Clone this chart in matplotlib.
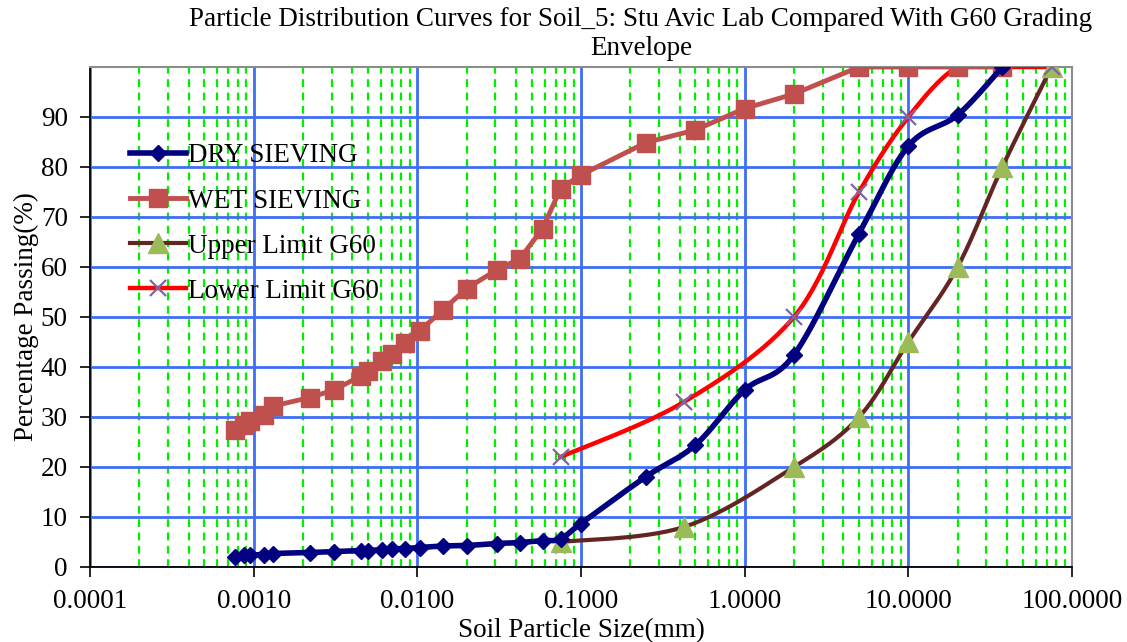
import numpy as np
import matplotlib.pyplot as plt
from matplotlib.ticker import FixedLocator, FuncFormatter

plt.rcParams['font.family'] = ['Liberation Serif', 'DejaVu Serif']

FS = 19.5

# sieve / hydrometer sizes (mm)
sizes = [0.00077, 0.00087, 0.00095, 0.00115, 0.00132, 0.0022, 0.0031, 0.0045,
         0.0050, 0.0061, 0.0070, 0.0084, 0.0104, 0.0143, 0.0200, 0.0305,
         0.0424, 0.0583, 0.075, 0.1, 0.25, 0.5, 1.0, 2.0, 5.0, 10.0, 20.0, 37.5]

dry_passing = [2.1, 2.4, 2.4, 2.5, 2.7, 2.9, 3.1, 3.3, 3.3, 3.5, 3.6, 3.7, 3.9,
               4.2, 4.3, 4.7, 4.9, 5.3, 5.6, 8.7, 18.1, 24.4, 35.4, 42.4, 66.7,
               84.2, 90.4, 100.0]

wet_passing = [27.4, 28.5, 29.3, 30.5, 32.2, 33.9, 35.4, 38.2, 39.3, 41.3, 42.7,
               44.9, 47.3, 51.4, 55.7, 59.4, 61.7, 67.7, 75.7, 78.4, 84.9, 87.4,
               91.7, 94.6, 100.0, 100.0, 100.0, 100.0]

g60_sizes = [0.075, 0.425, 2.0, 5.0, 10.0, 20.0, 37.5, 75.0]
g60_upper = [5, 8, 20, 30, 45, 60, 80, 100]
g60_lower = [22, 33, 50, 75, 90, 100, 100, 100]

y_ticks = [0, 10, 20, 30, 40, 50, 60, 70, 80, 90]


def smooth(x, y, n=30):
    # Catmull-Rom style bezier through the points, done in log10(x) space
    u = np.log10(np.asarray(x, float))
    v = np.asarray(y, float)
    pts = np.column_stack([u, v])
    ext = np.vstack([pts[0], pts, pts[-1]])
    out = []
    t = np.linspace(0, 1, n)[:, None]
    for i in range(len(pts) - 1):
        p0, p1, p2, p3 = ext[i], ext[i + 1], ext[i + 2], ext[i + 3]
        b1 = p1 + (p2 - p0) / 6
        b2 = p2 - (p3 - p1) / 6
        seg = ((1 - t) ** 3) * p1 + 3 * ((1 - t) ** 2) * t * b1 \
            + 3 * (1 - t) * t ** 2 * b2 + t ** 3 * p2
        out.append(seg if i == 0 else seg[1:])
    out = np.vstack(out)
    return 10 ** out[:, 0], out[:, 1]


fig = plt.figure(figsize=(11.27, 6.42), dpi=100)
ax = fig.add_axes([90 / 1127, 1 - 567 / 642, 982 / 1127, 500 / 642])

ax.set_xscale('log')
ax.set_xlim(0.0001, 100)
ax.set_ylim(0, 100)

# grid: blue solid for decades and every 10 %, green dashed for 2..9
ax.grid(which='major', axis='both', color='#3d6ef5', linewidth=2.0, linestyle='-', zorder=0)
ax.grid(which='minor', axis='x', color='#00ee00', linewidth=1.6, linestyle=(0, (3.5, 2.5)), zorder=0)
ax.set_axisbelow(True)

xs, ys = smooth(g60_sizes, g60_upper)
ax.plot(xs, ys, color='#632523', linewidth=3, zorder=3)
ax.plot(g60_sizes, g60_upper, linestyle='none', marker='^', markersize=14,
        color='#9bbb59', zorder=4)

xs, ys = smooth(g60_sizes, g60_lower)
ax.plot(xs, ys, color='#ff0000', linewidth=3.2, zorder=3)
ax.plot(g60_sizes, g60_lower, linestyle='none', marker='x', markersize=12,
        markeredgewidth=1.6, color='#8064a2', zorder=4)

ax.plot(sizes, wet_passing, color='#c0504d', linewidth=3.5, marker='s',
        markersize=13, zorder=5)

xs, ys = smooth(sizes, dry_passing)
ax.plot(xs, ys, color='#000080', linewidth=4, zorder=6)
ax.plot(sizes, dry_passing, linestyle='none', marker='D', markersize=8,
        color='#000080', zorder=6)

# legend proxies so each entry shows one line + one marker
h_dry, = ax.plot([], [], color='#000080', linewidth=4, marker='D', markersize=8)
h_wet, = ax.plot([], [], color='#c0504d', linewidth=3.5, marker='s', markersize=13)
h_up, = ax.plot([], [], color='#632523', linewidth=3, marker='^', markersize=14,
                markerfacecolor='#9bbb59', markeredgecolor='#9bbb59')
h_low, = ax.plot([], [], color='#ff0000', linewidth=3.2, marker='x', markersize=12,
                 markeredgewidth=1.6, markeredgecolor='#8064a2')
ax.legend([h_dry, h_wet, h_up, h_low],
          ['DRY SIEVING', 'WET SIEVING', 'Upper Limit G60', 'Lower Limit G60'],
          loc='upper left', bbox_to_anchor=(40 / 982, 0.847), frameon=False,
          fontsize=FS, handlelength=2.05, handletextpad=0.1, labelspacing=0.74,
          borderpad=0, borderaxespad=0)

ax.xaxis.set_major_locator(FixedLocator([1e-4, 1e-3, 1e-2, 1e-1, 1, 10, 100]))
ax.xaxis.set_major_formatter(FuncFormatter(lambda v, p: f'{v:.4f}'))
ax.set_yticks(y_ticks)
ax.tick_params(axis='both', which='major', labelsize=FS, direction='out',
               length=7, width=1.2, color='black')
ax.tick_params(axis='x', which='minor', length=0)
ax.tick_params(axis='x', pad=9)
ax.tick_params(axis='y', pad=9)

for side in ['top', 'right']:
    ax.spines[side].set_color('#8c8c8c')
    ax.spines[side].set_linewidth(1.5)
for side in ['left', 'bottom']:
    ax.spines[side].set_color('black')
    ax.spines[side].set_linewidth(1.3)

ax.set_xlabel('Soil Particle Size(mm)', fontsize=FS, labelpad=3)
ax.set_ylabel('Percentage Passing(%)', fontsize=FS, labelpad=1)

fig.text(641 / 1127, 1 - 7 / 642,
         'Particle Distribution Curves for Soil_5: Stu Avic Lab Compared With G60 Grading\nEnvelope',
         ha='center', va='top', fontsize=FS, linespacing=1.2)

fig.savefig('out.png', dpi=100)
